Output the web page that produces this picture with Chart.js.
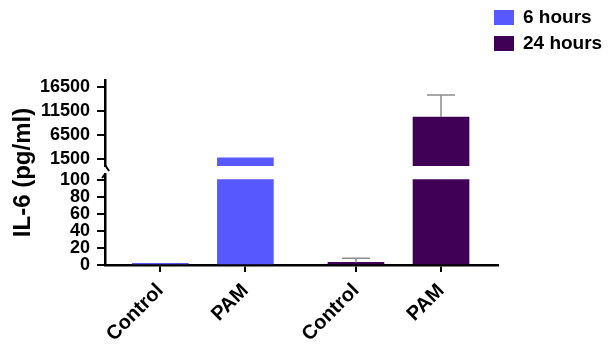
<!DOCTYPE html>
<html>
<head>
<meta charset="utf-8">
<script src="https://cdn.jsdelivr.net/npm/chart.js@4/dist/chart.umd.min.js"></script>
<style>
  html, body { margin: 0; padding: 0; background: #fff; }
  #wrap { position: relative; width: 609px; height: 347px; }
  #legend { position: absolute; left: 494px; top: 4px; font: bold 19px "Liberation Sans", Arial, sans-serif; color: #000; }
  #legend .item { display: flex; align-items: center; height: 26px; white-space: nowrap; }
  #legend .box { width: 20px; height: 15px; margin-right: 9px; }
</style>
</head>
<body>
<div id="wrap"><canvas id="il6"></canvas><div id="legend"></div></div>
<script>
// data
const groups = ['6 hours', '24 hours'];
const treatments = ['Control', 'PAM'];
const il6_6h = [2, 1700];
const il6_24h = [3, 10250];
const err_6h = [0, 0];
const err_24h = [5, 4600];
const lowTicks = [0, 20, 40, 60, 80, 100];
const highTicks = [1500, 6500, 11500, 16500];
const breakAt = 100;

const colors = ['rgb(88, 88, 255)', 'rgb(64, 0, 86)'];
const series = [il6_6h, il6_24h];
const errors = [err_6h, err_24h];
const labels = groups.flatMap(() => treatments);

// x slot for each bar (second group shifted to leave a gap)
const xAt = (g, i) => g * 2.3 + i;
const xTicks = groups.flatMap((g, gi) => treatments.map((t, i) => xAt(gi, i)));

const fontFamily = '"Liberation Sans", Arial, sans-serif';
const font = { family: fontFamily, size: 18, weight: 'bold' };

const datasets = [];
groups.forEach((g, gi) => {
  const vals = series[gi];
  datasets.push({
    label: g,
    yAxisID: 'yHigh',
    backgroundColor: colors[gi],
    data: vals.map((v, i) => ({ x: xAt(gi, i), y: v > breakAt ? v : null, err: v > breakAt ? errors[gi][i] : 0 }))
  });
  datasets.push({
    label: g,
    yAxisID: 'yLow',
    backgroundColor: colors[gi],
    data: vals.map((v, i) => ({ x: xAt(gi, i), y: Math.min(v, breakAt), err: v <= breakAt ? errors[gi][i] : 0 }))
  });
});

// legend
const legendEl = document.getElementById('legend');
groups.forEach((g, gi) => {
  const row = document.createElement('div');
  row.className = 'item';
  row.innerHTML = '<span class="box" style="background:' + colors[gi] + '"></span><span>' + g + '</span>';
  legendEl.appendChild(row);
});

const errorBars = {
  id: 'errorBars',
  afterDatasetsDraw(chart) {
    const ctx = chart.ctx;
    ctx.save();
    ctx.strokeStyle = '#8c8c8c';
    ctx.lineWidth = 1.5;
    chart.data.datasets.forEach((ds, di) => {
      const meta = chart.getDatasetMeta(di);
      const scale = chart.scales[ds.yAxisID];
      ds.data.forEach((p, i) => {
        if (p.y == null || !p.err) return;
        const el = meta.data[i];
        const top = scale.getPixelForValue(p.y + p.err);
        ctx.beginPath();
        ctx.moveTo(el.x, el.y);
        ctx.lineTo(el.x, top);
        ctx.moveTo(el.x - 14, top);
        ctx.lineTo(el.x + 14, top);
        ctx.stroke();
      });
    });
    ctx.restore();
  }
};

const axisDecor = {
  id: 'axisDecor',
  afterDraw(chart) {
    const ctx = chart.ctx;
    const hi = chart.scales.yHigh, lo = chart.scales.yLow;
    const x = lo.right;
    ctx.save();
    ctx.strokeStyle = '#000';
    ctx.lineWidth = 2;
    ctx.beginPath();
    ctx.moveTo(x, hi.bottom - 1);
    ctx.lineTo(x + 4, hi.bottom + 5);
    ctx.moveTo(x - 3, lo.top + 4);
    ctx.lineTo(x, lo.top);
    ctx.stroke();
    // y axis title
    ctx.fillStyle = '#000';
    ctx.font = 'bold 24px ' + fontFamily;
    ctx.textAlign = 'center';
    ctx.textBaseline = 'middle';
    ctx.translate(23, (chart.chartArea.top + chart.chartArea.bottom) / 2);
    ctx.rotate(-Math.PI / 2);
    ctx.fillText('IL-6 (pg/ml)', 0, 0);
    ctx.restore();
  }
};

const yCommon = {
  type: 'linear',
  position: 'left',
  stack: 'y',
  grid: { drawOnChartArea: false, tickLength: 8, color: '#000', lineWidth: 2 },
  border: { color: '#000', width: 2.5 },
  ticks: { font: font, color: '#000', padding: 7, autoSkip: false, callback: v => String(v) }
};

new Chart(document.getElementById('il6'), {
  type: 'bar',
  data: { datasets: datasets },
  options: {
    responsive: true,
    maintainAspectRatio: false,
    animation: false,
    layout: { padding: { left: 33, top: 4, right: 111, bottom: 0 } },
    datasets: { bar: { barThickness: 56, grouped: false, borderWidth: 0 } },
    scales: {
      x: {
        type: 'linear',
        min: -0.65,
        max: 3.97,
        offset: false,
        afterBuildTicks: s => { s.ticks = xTicks.map(v => ({ value: v })); },
        afterFit: s => { s.height = 82; },
        grid: { drawOnChartArea: false, offset: false, tickLength: 7, color: '#000', lineWidth: 2 },
        border: { color: '#000', width: 2.5 },
        ticks: { font: { family: fontFamily, size: 20, weight: 'bold' }, color: '#000', padding: 7,
                 minRotation: 45, maxRotation: 45, autoSkip: false,
                 callback: (v, i) => labels[i] }
      },
      yHigh: Object.assign({}, yCommon, {
        weight: 3, stackWeight: 86, min: 0, max: 18000,
        afterBuildTicks: s => { s.ticks = highTicks.map(v => ({ value: v })); }
      }),
      ySpace: {
        type: 'linear', position: 'left', stack: 'y', weight: 2, stackWeight: 8,
        grid: { display: false }, border: { display: false }, ticks: { display: false }
      },
      yLow: Object.assign({}, yCommon, {
        weight: 1, stackWeight: 91, min: 0, max: 106.5,
        afterBuildTicks: s => { s.ticks = lowTicks.map(v => ({ value: v })); }
      })
    },
    plugins: {
      title: { display: true, text: '', padding: 0, font: { size: 76, lineHeight: 1 } },
      tooltip: { enabled: false },
      legend: { display: false }
    }
  },
  plugins: [errorBars, axisDecor]
});
</script>
</body>
</html>
